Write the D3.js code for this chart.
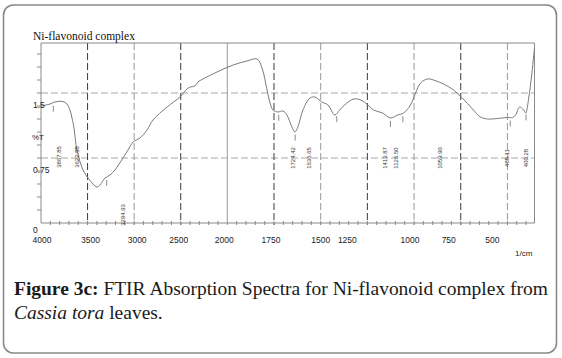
<!DOCTYPE html>
<html><head><meta charset="utf-8">
<script src="https://cdn.jsdelivr.net/npm/d3@7"></script>
<style>body{margin:0;background:#fff}svg{display:block}</style>
</head><body><svg id="c" width="562" height="358"></svg>
<script>
// ---------- data ----------
const wavenumbers = [4000,3903,3850,3764,3721,3689,3667,3646,3614,3549,3495,3442,3399,3367,3313,3259,3206,3120,3066,3012,2937,2862,2798,2647,2508,2433,2400,2347,2315,2261,2111,1969,1895,1841,1814,1787,1771,1755,1729,1702,1681,1654,1638,1622,1595,1557,1531,1494,1461,1424,1398,1360,1322,1285,1248,1217,1168,1126,1088,1056,1019,992,965,928,896,842,789,741,687,644,607,553,500,472,456,435,413,402,386,370,359,355];
const transmittance = [1.350,1.373,1.396,1.402,1.373,1.304,1.211,1.096,0.842,0.612,0.519,0.450,0.415,0.438,0.519,0.554,0.612,0.750,0.842,0.935,0.981,1.073,1.188,1.338,1.454,1.546,1.569,1.581,1.627,1.662,1.742,1.823,1.869,1.892,1.788,1.535,1.385,1.304,1.281,1.292,1.246,1.108,1.050,1.108,1.304,1.442,1.454,1.396,1.362,1.246,1.304,1.385,1.431,1.419,1.362,1.304,1.269,1.212,1.246,1.269,1.362,1.500,1.615,1.662,1.650,1.604,1.535,1.442,1.315,1.223,1.200,1.206,1.217,1.217,1.246,1.338,1.304,1.269,1.442,1.708,1.938,2.019];
const xTickValues = [4000,3500,3000,2500,2000,1750,1500,1250,1000,750,500];
const yTickValues = [0, 0.75, 1.5];
const yTickLabels = ["0", "0.75", "1.5"];
const peakLabels = ["3867.85","3622.38","3294.93","1724.42","1636.65","1413.87","1126.50","1059.90","485.11","400.28"];
const chartTitle = "Ni-flavonoid complex";
const yAxisTitle = "%T";
const xAxisUnit = "1/cm";

// ---------- layout ----------
const L = {left: 41, right: 534.5, top: 43, bottom: 223};
const x = d3.scaleLinear().domain([4000, 2000, 355]).range([41, 227.3, 534.5]);
const y = d3.scaleLinear().domain([0, 1.5]).range([223, 93]);
const xLabelDx = [1, 3, 3, -2, -3, -3, 0, -20, -4, -12, -15];
const peakLabelDx = [6, 1, 16, 14, 14, 48, 6, 37, -3, 0];
const peakLabelY = [157, 157, 215, 158, 158, 158, 158, 158, 158, 158];
const darkGrid = [true, false, true, null, true, false, true, false, true, false]; // null = solid

const svg = d3.select("#c");
const sans = "'Liberation Sans', Arial, sans-serif";
const serif = "'Liberation Serif', 'Times New Roman', serif";

// outer rounded frame
svg.append("rect").attr("x", 3.5).attr("y", 5).attr("width", 553).attr("height", 348)
  .attr("rx", 10).attr("fill", "none").attr("stroke", "#8a8a8a").attr("stroke-width", 1.6);

// horizontal dashed grid
svg.append("g").selectAll("line").data(yTickValues.filter(v => v > 0)).join("line")
  .attr("x1", L.left).attr("x2", L.right).attr("y1", d => y(d)).attr("y2", d => y(d))
  .attr("stroke", "#a8a8a8").attr("stroke-dasharray", "7,3").attr("stroke-width", 1);

// vertical grid
svg.append("g").selectAll("line").data(xTickValues.slice(1)).join("line")
  .attr("x1", d => x(d)).attr("x2", d => x(d)).attr("y1", L.top).attr("y2", L.bottom + 2)
  .attr("stroke", (d, i) => darkGrid[i] === null ? "#9a9a9a" : (darkGrid[i] ? "#3a3a3a" : "#9a9a9a"))
  .attr("stroke-dasharray", (d, i) => darkGrid[i] === null ? null : "7,3")
  .attr("stroke-width", 1);

// frame lines
svg.append("path").attr("d", `M${L.left},${L.bottom}V${L.top}H${L.right}V${L.bottom}H${L.left}`)
  .attr("fill", "none").attr("stroke", "#8a8a8a").attr("stroke-width", 1);

// x minor ticks
const xMinor = d3.range(3900, 2000, -100).concat(d3.range(1950, 355, -50));
svg.append("g").selectAll("line").data(xMinor).join("line")
  .attr("x1", d => x(d)).attr("x2", d => x(d)).attr("y1", L.bottom - 2).attr("y2", L.bottom + 2)
  .attr("stroke", "#8a8a8a");
// y minor ticks
const yMinor = d3.range(0.15, 2.0, 0.15);
svg.append("g").selectAll("line").data(yMinor).join("line")
  .attr("x1", L.left - 4).attr("x2", L.left).attr("y1", d => y(d)).attr("y2", d => y(d))
  .attr("stroke", "#8a8a8a");

// spectrum
const pts = wavenumbers.map((w, i) => [w, transmittance[i]]);
const line = d3.line().x(d => x(d[0])).y(d => y(d[1])).curve(d3.curveCatmullRom.alpha(0.5));
svg.append("path").datum(pts).attr("d", line).attr("fill", "none")
  .attr("stroke", "#7a7a7a").attr("stroke-width", 1);

// peak marks and labels
const interpT = d3.scaleLinear().domain(wavenumbers).range(transmittance);
const pk = svg.append("g");
peakLabels.forEach((lab, i) => {
  const w = parseFloat(lab);
  const px = x(w), py = y(interpT(w));
  pk.append("line").attr("x1", px).attr("x2", px).attr("y1", py + 3).attr("y2", py + 9)
    .attr("stroke", "#8a8a8a");
  pk.append("text").attr("transform", `translate(${px + peakLabelDx[i] + 2},${peakLabelY[i]}) rotate(-90)`)
    .attr("text-anchor", "middle").attr("font-family", sans).attr("font-size", 6)
    .attr("fill", "#333").text(lab);
});

// x tick labels
svg.append("g").selectAll("text").data(xTickValues).join("text")
  .attr("x", (d, i) => x(d) + xLabelDx[i]).attr("y", 242.5).attr("text-anchor", "middle")
  .attr("font-family", sans).attr("font-size", 8.5).attr("fill", "#222").text(d => d);
svg.append("text").attr("x", 515).attr("y", 256).attr("font-family", sans)
  .attr("font-size", 8).attr("fill", "#222").text(xAxisUnit);

// y tick labels (drawn below their lines)
svg.append("g").selectAll("text").data(yTickValues).join("text")
  .attr("x", 33).attr("y", d => y(d) + (d === 0 ? 10 : 14.5)).attr("font-family", sans)
  .attr("font-size", 8.5).attr("fill", "#222").text((d, i) => yTickLabels[i]);
svg.append("text").attr("x", 32).attr("y", 140).attr("font-family", sans)
  .attr("font-size", 8).attr("fill", "#222").text(yAxisTitle);

// title
svg.append("text").attr("x", 33).attr("y", 40).attr("font-family", serif)
  .attr("font-size", 11.5).attr("fill", "#111").text(chartTitle);

// caption
const cap1 = svg.append("text").attr("x", 14).attr("y", 295).attr("font-family", serif)
  .attr("font-size", 20).attr("fill", "#1a1a1a");
cap1.append("tspan").attr("font-weight", "bold").text("Figure 3c:");
cap1.append("tspan").text(" FTIR Absorption Spectra for Ni-flavonoid complex from");
const cap2 = svg.append("text").attr("x", 14).attr("y", 319).attr("font-family", serif)
  .attr("font-size", 20).attr("fill", "#1a1a1a");
cap2.append("tspan").attr("font-style", "italic").text("Cassia tora");
cap2.append("tspan").text(" leaves.");
const w1 = cap1.node().getComputedTextLength();
const fs = 20 * 534 / w1;
cap1.attr("font-size", fs);
cap2.attr("font-size", fs);
</script></body></html>
